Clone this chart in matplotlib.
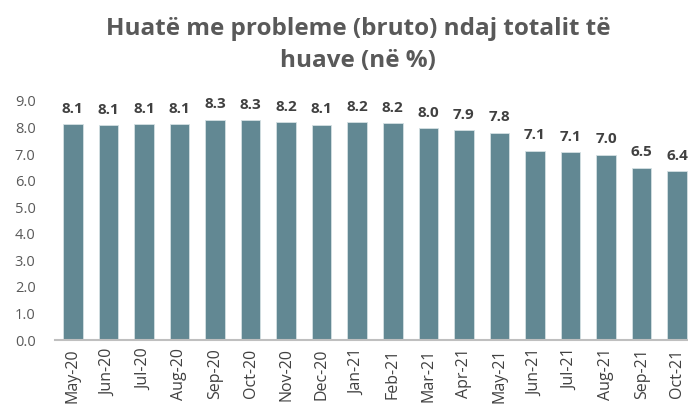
import matplotlib
matplotlib.use("Agg")
import matplotlib.pyplot as plt

months = ['May-20', 'Jun-20', 'Jul-20', 'Aug-20', 'Sep-20', 'Oct-20', 'Nov-20', 'Dec-20',
          'Jan-21', 'Feb-21', 'Mar-21', 'Apr-21', 'May-21', 'Jun-21', 'Jul-21', 'Aug-21',
          'Sep-21', 'Oct-21']
values = [8.14, 8.10, 8.12, 8.13, 8.30, 8.29, 8.21, 8.11, 8.21, 8.17,
          7.97, 7.89, 7.81, 7.13, 7.07, 6.98, 6.49, 6.36]
yticks = [0, 1, 2, 3, 4, 5, 6, 7, 8, 9]

plt.rcParams['font.family'] = ['Open Sans', 'DejaVu Sans']

fig = plt.figure(figsize=(6.88, 4.11), dpi=100)
ax = fig.add_axes([55 / 688, 71 / 411, 640 / 688, 239 / 411])

x = range(len(months))
bars = ax.bar(x, values, width=0.55, color='#628893', edgecolor='#d5e0e3', linewidth=0.6)

for b, v in zip(bars, values):
    ax.annotate(f"{v:.1f}", (b.get_x() + b.get_width() / 2, v), xytext=(0, 6),
                textcoords='offset points', ha='center', va='bottom',
                fontsize=11, fontweight='bold', color='#404040')

ax.set_xlim(-0.5, len(months) - 0.5)
ax.set_ylim(0, 9)
ax.set_yticks(yticks)
ax.set_yticklabels([f"{t:.1f}" for t in yticks], fontsize=10.5, color='#595959')
ax.set_xticks(list(x))
ax.set_xticklabels(months, rotation=90, fontsize=11.5, color='#404040')
ax.tick_params(axis='both', length=0)
ax.tick_params(axis='y', pad=14)
ax.tick_params(axis='x', pad=6)

for s in ['top', 'right', 'left']:
    ax.spines[s].set_visible(False)
ax.spines['bottom'].set_color('#bfbfbf')
ax.spines['bottom'].set_linewidth(1.5)

fig.text(358 / 688, 1 - 45 / 411, "Huatë me probleme (bruto) ndaj totalit të\nhuave (në %)",
         ha='center', va='center', fontsize=17.5, fontweight='bold', color='#595959',
         linespacing=1.4)

fig.savefig("out.png", dpi=100)
